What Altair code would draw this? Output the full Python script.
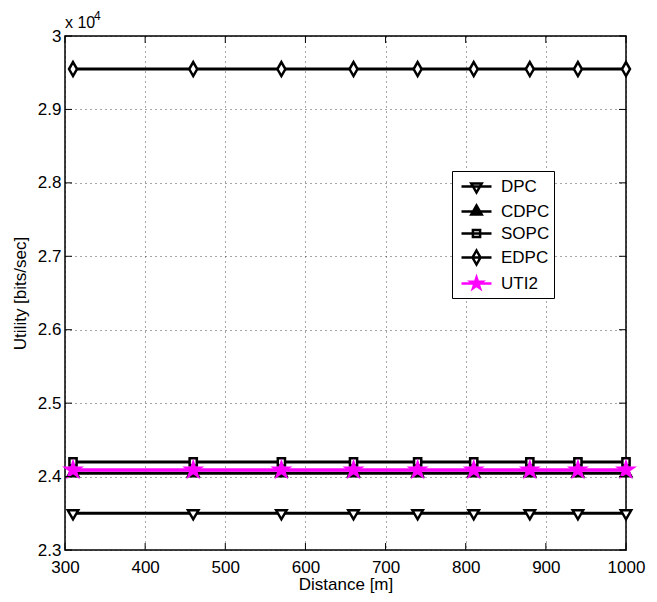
import altair as alt
import pandas as pd

# ---------------- data ----------------
distance = [310, 460, 570, 660, 740, 810, 880, 940, 1000]
series_names = ["DPC", "CDPC", "SOPC", "EDPC", "UTI2"]
dpc = [23500, 23500, 23500, 23500, 23500, 23500, 23500, 23500, 23500]
cdpc = [24045, 24045, 24045, 24045, 24045, 24045, 24045, 24045, 24045]
sopc = [24200, 24200, 24200, 24200, 24200, 24200, 24200, 24200, 24200]
edpc = [29550, 29550, 29550, 29550, 29550, 29550, 29550, 29550, 29550]
uti2 = [24090, 24090, 24090, 24090, 24090, 24090, 24090, 24090, 24090]
x_ticks = [300, 400, 500, 600, 700, 800, 900, 1000]
y_ticks = [23000, 24000, 25000, 26000, 27000, 28000, 29000, 30000]
exp_base = ["x 10"]
exp_power = ["4"]

values = {"DPC": dpc, "CDPC": cdpc, "SOPC": sopc, "EDPC": edpc, "UTI2": uti2}
rows = []
for name in series_names:
    for d, v in zip(distance, values[name]):
        rows.append({"series": name, "distance": d, "utility": v})
df = pd.DataFrame(rows)

# ---------------- styles ----------------
FONT = "Liberation Sans"
W, H = 561, 514

STAR = [(0, -1), (0.2245, -0.309), (0.951, -0.309), (0.3633, 0.118), (0.588, 0.809),
        (0, 0.382), (-0.588, 0.809), (-0.3633, 0.118), (-0.951, -0.309), (-0.2245, -0.309)]
TRI_DOWN = [(-0.95, -0.55), (0.95, -0.55), (0, 1.1)]
TRI_UP = [(-0.95, 0.55), (0.95, 0.55), (0, -1.1)]
SQUARE = [(-1, -1), (1, -1), (1, 1), (-1, 1)]
DIAMOND = [(0, -1.4), (0.8, 0), (0, 1.4), (-0.8, 0)]


def poly(pts, f=1.0):
    return "M" + "L".join(f"{x * f:.3f},{y * f:.3f}" for x, y in pts) + "Z"


marker_shape = {"DPC": TRI_DOWN, "CDPC": TRI_UP, "SOPC": SQUARE, "EDPC": DIAMOND, "UTI2": STAR}
marker_px = {"DPC": 5.5, "CDPC": 5.5, "SOPC": 3.6, "EDPC": 5.0, "UTI2": 7.5}  # px per unit
legend_px = {"DPC": 5.5, "CDPC": 5.5, "SOPC": 3.6, "EDPC": 5.0, "UTI2": 6.0}
stroke_col = {"DPC": "black", "CDPC": "black", "SOPC": "black", "EDPC": "black", "UTI2": "#ff00ff"}
fill_col = {"DPC": "white", "CDPC": "black", "SOPC": "white", "EDPC": "white", "UTI2": "#ff00ff"}
line_w = {"DPC": 3, "CDPC": 3, "SOPC": 3, "EDPC": 3, "UTI2": 3.5}

LEG_SIZE = 20  # legend symbol px (sqrt size)
legend_paths = []
for name in series_names:
    f = legend_px[name] / (LEG_SIZE / 2)
    legend_paths.append("M-1.5,0H1.5" + poly(marker_shape[name], f))

xscale = alt.Scale(domain=[300, 1000], nice=False, zero=False)
yscale = alt.Scale(domain=[23000, 30000], nice=False, zero=False)

xaxis = alt.Axis(values=x_ticks, grid=True, ticks=False, domain=False, format="d",
                 labelFontSize=17, labelPadding=9, labelFlush=False, labelOverlap=False,
                 title="Distance [m]", titleFontSize=17, titleFontWeight="normal",
                 titleBaseline="alphabetic", titleY=39)
yaxis = alt.Axis(values=y_ticks, grid=True, ticks=False, domain=False,
                 labelFontSize=17, labelPadding=4, labelFlush=False, labelOverlap=False,
                 labelExpr="format(datum.value / 10000, '.1~f')",
                 title="Utility [bits/sec]", titleFontSize=17, titleFontWeight="normal",
                 titleBaseline="alphabetic", titleX=-40)


def X(f):
    return alt.X(f"{f}:Q", scale=xscale, axis=xaxis)


def Y(f):
    return alt.Y(f"{f}:Q", scale=yscale, axis=yaxis)


base = alt.Chart(df)
layers = []

# lines
for name in series_names:
    layers.append(
        base.transform_filter(alt.datum.series == name)
        .mark_line(color=stroke_col[name], strokeWidth=line_w[name])
        .encode(x=X("distance"), y=Y("utility"))
    )
# markers
for name in series_names:
    layers.append(
        base.transform_filter(alt.datum.series == name)
        .mark_point(shape=poly(marker_shape[name]), size=(2 * marker_px[name]) ** 2,
                    filled=True, fill=fill_col[name], stroke=stroke_col[name],
                    strokeWidth=2.5, opacity=1)
        .encode(x=X("distance"), y=Y("utility"))
    )

# legend (from scales only; no rows drawn)
leg = alt.Legend(orient="none", legendX=387, legendY=135, title=None,
                 labelFont=FONT, labelFontSize=17, labelColor="black",
                 symbolSize=LEG_SIZE ** 2, symbolStrokeWidth=2.5, symbolOpacity=1,
                 padding=4, symbolOffset=9, labelOffset=13, rowPadding=2,
                 strokeColor="black", fillColor="white")
layers.append(
    base.transform_filter("false")
    .mark_point(opacity=1)
    .encode(
        x=X("distance"), y=Y("utility"),
        shape=alt.Shape("series:N", scale=alt.Scale(domain=series_names, range=legend_paths), legend=leg),
        stroke=alt.Stroke("series:N", scale=alt.Scale(domain=series_names,
                          range=[stroke_col[n] for n in series_names]), legend=leg),
        fill=alt.Fill("series:N", scale=alt.Scale(domain=series_names,
                      range=[fill_col[n] for n in series_names]), legend=leg),
    )
)

# inward ticks (MATLAB style)
xt = alt.Chart(pd.DataFrame({"v": x_ticks}))
yt = alt.Chart(pd.DataFrame({"v": y_ticks}))
layers.append(xt.mark_rule(color="black", strokeWidth=1).encode(x=X("v"), y=alt.value(H), y2=alt.value(H - 7)))
layers.append(xt.mark_rule(color="black", strokeWidth=1).encode(x=X("v"), y=alt.value(0), y2=alt.value(7)))
layers.append(yt.mark_rule(color="black", strokeWidth=1).encode(y=Y("v"), x=alt.value(0), x2=alt.value(7)))
layers.append(yt.mark_rule(color="black", strokeWidth=1).encode(y=Y("v"), x=alt.value(W - 7), x2=alt.value(W)))

# exponent label "x 10^4"
layers.append(
    alt.Chart(pd.DataFrame({"t": exp_base}))
    .mark_text(align="left", baseline="alphabetic", fontSize=16, font=FONT, color="black")
    .encode(text="t:N", x=alt.value(0), y=alt.value(-8))
)
layers.append(
    alt.Chart(pd.DataFrame({"t": exp_power}))
    .mark_text(align="left", baseline="alphabetic", fontSize=12, font=FONT, color="black")
    .encode(text="t:N", x=alt.value(29), y=alt.value(-16))
)

chart = (
    alt.layer(*layers)
    .properties(width=W, height=H,
                padding={"left": 57, "top": 28, "right": 20, "bottom": 44},
                autosize=alt.AutoSizeParams(type="none"))
    .configure(font=FONT)
    .configure_view(stroke="black", strokeWidth=1.5)
    .configure_axis(gridColor="#000000", gridDash=[1, 4], gridOpacity=0.7, gridWidth=1,
                    labelColor="black", titleColor="black", labelFont=FONT, titleFont=FONT)
)

chart.save("out.html", embed_options={"renderer": "svg", "actions": False})
